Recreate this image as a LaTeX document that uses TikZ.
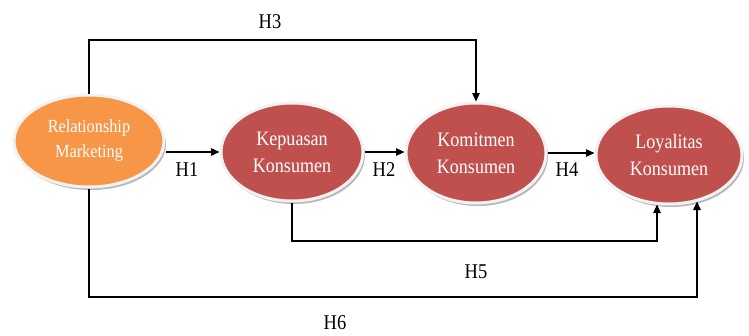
\documentclass[tikz,border=0pt]{standalone}
\usepackage{fontspec}
\setmainfont{Liberation Serif}
\newfontfamily\condfont[FakeStretch=0.88]{Liberation Serif}
\usetikzlibrary{shapes.geometric,arrows.meta,calc}
\definecolor{redfill}{HTML}{C0504D}
\definecolor{orangefill}{HTML}{F79646}
\definecolor{ringcol}{HTML}{F2F2F2}
\tikzset{
  oval/.style={ellipse, inner sep=0pt, draw=ringcol, line width=3pt, text=white, align=center,
    font=\condfont\fontsize{20.5}{27}\selectfont,
    preaction={fill=black!28, transform canvas={xshift=2pt,yshift=-3pt}}},
  redoval/.style={oval, fill=redfill},
  orangeoval/.style={oval, fill=orangefill, font=\condfont\fontsize{18.5}{25}\selectfont},
  conn/.style={line width=1.3pt, black},
  arr/.style={conn, -{Triangle[length=8.5pt,width=7.5pt]}},
  hlabel/.style={font=\condfont\fontsize{21}{24}\selectfont, inner sep=0pt}
}
\begin{document}
\begin{tikzpicture}[x=1pt,y=-1pt]
\useasboundingbox (0,0) rectangle (749,335);
\node[orangeoval, minimum width=150pt, minimum height=92pt] (rm) at (89,141) {Relationship\\Marketing};
\node[redoval, minimum width=142pt, minimum height=98pt] (kep) at (292,152) {Kepuasan\\Konsumen};
\node[redoval, minimum width=140pt, minimum height=100pt] (kom) at (476,153) {Komitmen\\Konsumen};
\node[redoval, minimum width=146pt, minimum height=98pt] (loy) at (669,155) {Loyalitas\\Konsumen};
\coordinate (h3top) at (270,40);
\coordinate (h5bot) at (450,241);
\coordinate (h6bot) at (400,297);
% H1, H2, H4
\draw[arr] (rm.east |- kep.west) -- (kep.west);
\draw[arr] (kep.east) -- (kom.west |- kep.east);
\draw[arr] (kom.east) -- (loy.west |- kom.east);
% H3
\draw[arr] (rm.north) |- (h3top) -| (kom.north);
% H5
\draw[arr] (kep.south) |- (h5bot) -| ([xshift=-12pt,yshift=1pt]loy.south);
% H6
\draw[arr] (rm.south) |- (h6bot) -| ([xshift=28pt,yshift=4pt]loy.south);
% labels
\node[hlabel] (l1) at (187,170) {H1};
\node[hlabel] (l2) at (384,170) {H2};
\node[hlabel] (l3) at (270,22) {H3};
\node[hlabel] (l4) at (567,170) {H4};
\node[hlabel] (l5) at (476,272) {H5};
\node[hlabel] (l6) at (335,323) {H6};
\end{tikzpicture}
\end{document}
